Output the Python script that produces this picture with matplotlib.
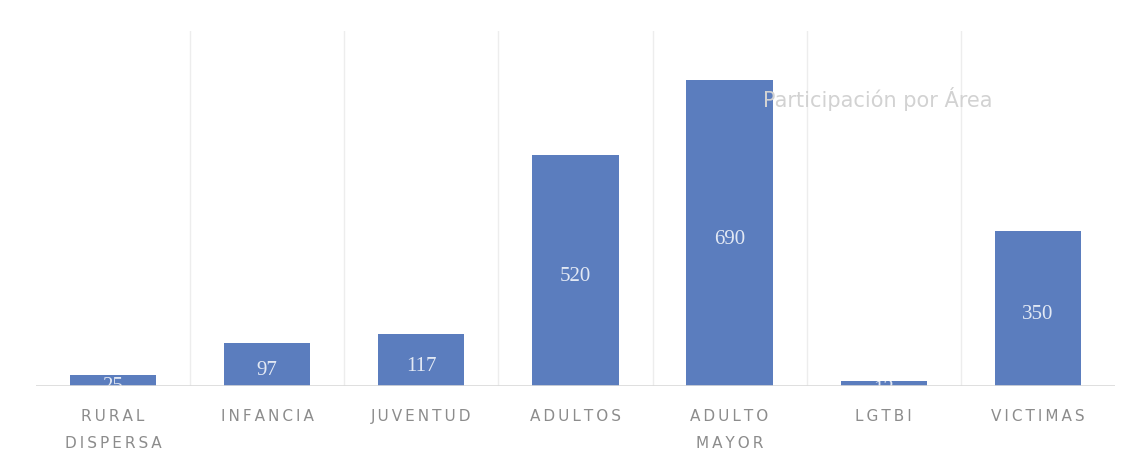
import matplotlib.pyplot as plt

# datos
categorias = ["RURAL\nDISPERSA", "INFANCIA", "JUVENTUD", "ADULTOS", "ADULTO\nMAYOR", "LGTBI", "VICTIMAS"]
valores = [25, 97, 117, 520, 690, 12, 350]

color_barra = "#5b7dbe"

def espaciar(txt):
    # simular el espaciado entre letras
    return "\n".join("\u2009".join(linea) for linea in txt.split("\n"))

fig = plt.figure(figsize=(11.35, 4.77), dpi=100)
ax = fig.add_axes([0.0317, 0.1887, 0.9506, 0.744])

# titulo tenue que se transparenta detras del grafico
fig.text(0.672, 0.775, "Participación por Área", fontsize=15, color="#d2d2d2",
         family="DejaVu Sans", zorder=0)

x = list(range(len(valores)))
barras = ax.bar(x, valores, width=0.56, color=color_barra, zorder=3)

for b, v in zip(barras, valores):
    t = ax.text(b.get_x() + b.get_width() / 2, v / 2 - 12, str(v), ha="center", va="center",
                color="#e3e9f4", fontsize=15, family="Liberation Serif", zorder=4)
    # las etiquetas de barras pequeñas quedan recortadas por la barra
    t.set_clip_on(True)
    t.set_clip_path(b)

ax.set_xlim(-0.5, len(valores) - 0.5)
ax.set_ylim(0, 800)

# lineas verticales entre categorias
for i in range(1, len(valores)):
    ax.axvline(i - 0.5, color="#ededed", lw=1, zorder=1)

ax.axhline(0, color="#d9d9d9", lw=1.2, zorder=5)

ax.set_xticks(x)
ax.set_xticklabels([espaciar(c) for c in categorias], fontsize=11, color="#8c8c8c",
                   linespacing=2.0, va="top")
ax.tick_params(axis="x", length=0, pad=16)
ax.set_yticks([])
for s in ax.spines.values():
    s.set_visible(False)
ax.patch.set_alpha(0)

fig.savefig("out.png", dpi=100, facecolor="white")
